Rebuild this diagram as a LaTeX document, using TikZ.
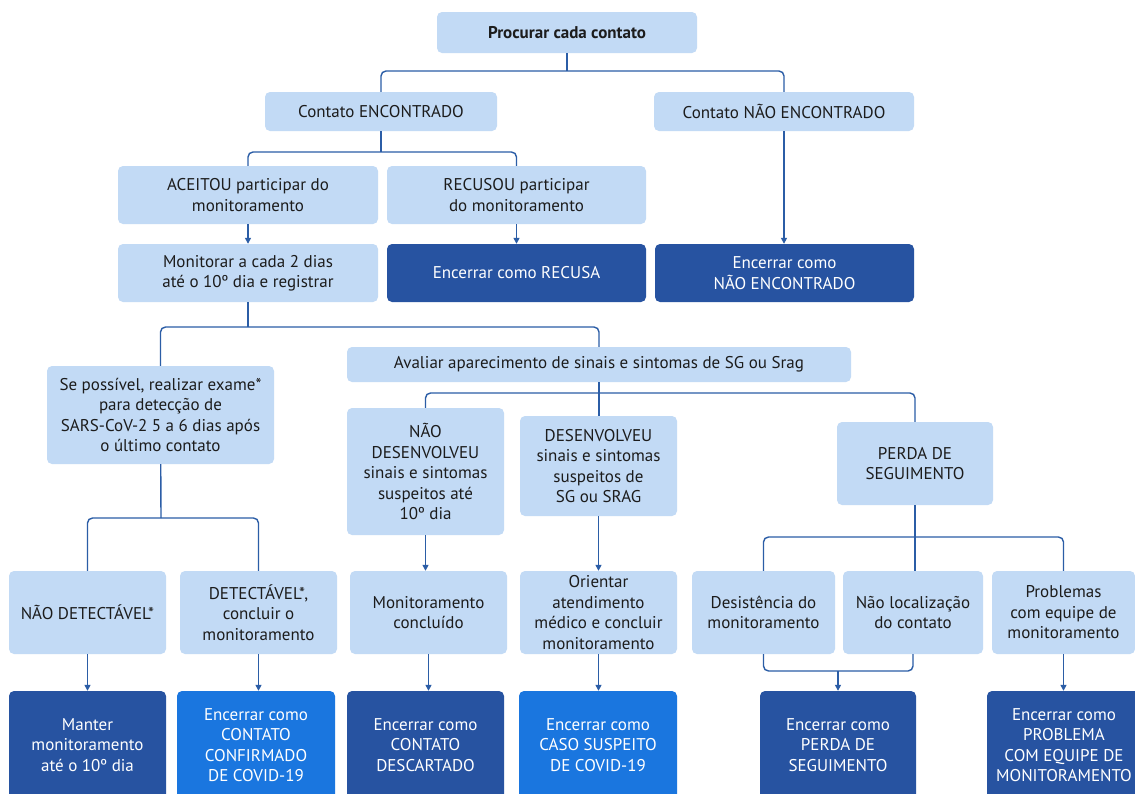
\documentclass[tikz,border=0pt]{standalone}
\usepackage{fontspec}
\setmainfont{PT Sans}
\usetikzlibrary{arrows.meta}
\definecolor{lightfill}{HTML}{C2DAF5}
\definecolor{darkfill}{HTML}{2753A1}
\definecolor{brightfill}{HTML}{1A76DF}
\definecolor{linkblue}{HTML}{2B5DA6}
\definecolor{boxtext}{HTML}{1C1C1C}
\tikzset{
    box/.style={rounded corners=5pt, align=center, inner sep=2pt,
        font=\fontsize{17}{20.5}\selectfont},
    light/.style={box, fill=lightfill, text=boxtext},
    dark/.style={box, fill=darkfill, text=white},
    bright/.style={box, fill=brightfill, text=white},
    link/.style={draw=linkblue, line width=1.4pt},
    arrowlink/.style={link, -{Triangle[length=6pt,width=6pt]}},
}
\begin{document}
\begin{tikzpicture}[x=1pt,y=-1pt]
    \clip (0,0) rectangle (1135,793);
    \fill[white] (0,0) rectangle (1135,793);
    % first levels
    \node[light, minimum width=260, minimum height=41] (proc) at (567,32.5) {\bfseries Procurar cada contato};
    \node[light, minimum width=232, minimum height=39] (enc) at (381,111.5) {Contato ENCONTRADO};
    \node[light, minimum width=260, minimum height=39] (nenc) at (784,111.5) {Contato NÃO ENCONTRADO};
    \node[light, minimum width=260, minimum height=58] (acc) at (248,195) {ACEITOU participar do\\monitoramento};
    \node[light, minimum width=259, minimum height=58] (rec) at (516.5,195) {RECUSOU participar\\do monitoramento};
    \node[light, minimum width=260, minimum height=58] (mon) at (248,273) {Monitorar a cada 2 dias\\até o 10º dia e registrar};
    \node[dark, minimum width=259, minimum height=58] (erec) at (516.5,273) {Encerrar como RECUSA};
    \node[dark, minimum width=259, minimum height=58] (enenc) at (784.5,273) {Encerrar como\\NÃO ENCONTRADO};
    % middle level
    \node[light, minimum width=227, minimum height=98] (exame) at (160.5,415) {Se possível, realizar exame*\\para detecção de\\SARS-CoV-2 5 a 6 dias após\\o último contato};
    \node[light, minimum width=504, minimum height=35] (aval) at (599,364.5) {Avaliar aparecimento de sinais e sintomas de SG ou Srag};
    \node[light, minimum width=157, minimum height=127] (ndes) at (425.5,471.5) {NÃO\\DESENVOLVEU\\sinais e sintomas\\suspeitos até\\10º dia};
    \node[light, minimum width=157, minimum height=100] (des) at (598.5,466) {DESENVOLVEU\\sinais e sintomas\\suspeitos de\\SG ou SRAG};
    \node[light, minimum width=156, minimum height=83] (perda) at (915,463.5) {PERDA DE\\SEGUIMENTO};
    % lower level
    \node[light, minimum width=157, minimum height=83] (ndet) at (87.5,612.5) {NÃO DETECTÁVEL*};
    \node[light, minimum width=157, minimum height=83] (det) at (258.5,612.5) {DETECTÁVEL*,\\concluir o\\monitoramento};
    \node[light, minimum width=157, minimum height=83] (conc) at (428.5,612.5) {Monitoramento\\concluído};
    \node[light, minimum width=157, minimum height=83] (orient) at (598.5,612.5) {Orientar\\atendimento\\médico e concluir\\monitoramento};
    \node[light, minimum width=143, minimum height=83] (desist) at (763.5,612.5) {Desistência do\\monitoramento};
    \node[light, minimum width=140, minimum height=83] (nloc) at (913,612.5) {Não localização\\do contato};
    \node[light, minimum width=143, minimum height=83] (prob) at (1063.5,612.5) {Problemas\\com equipe de\\monitoramento};
    % closing boxes
    \node[dark, minimum width=157, minimum height=108] (manter) at (87.5,745) {Manter\\monitoramento\\até o 10º dia};
    \node[bright, minimum width=158, minimum height=108] (econf) at (256,745) {Encerrar como\\CONTATO\\CONFIRMADO\\DE COVID-19};
    \node[dark, minimum width=157, minimum height=108] (edesc) at (425.5,745) {Encerrar como\\CONTATO\\DESCARTADO};
    \node[bright, minimum width=158, minimum height=108] (esusp) at (598,745) {Encerrar como\\CASO SUSPEITO\\DE COVID-19};
    \node[dark, minimum width=156, minimum height=108] (eperda) at (838,745) {Encerrar como\\PERDA DE\\SEGUIMENTO};
    \node[dark, minimum width=154, minimum height=108] (eprob) at (1064,745) {Encerrar como\\PROBLEMA\\COM EQUIPE DE\\MONITORAMENTO};
    % bus points
    \coordinate (b1) at (567,71);
    \coordinate (b2) at (381,152);
    \coordinate (b3) at (248,327);
    \coordinate (b4) at (599,393);
    \coordinate (b5) at (161,518);
    \coordinate (b6) at (915,537);
    \coordinate (b7) at (838,671);
    % branches
    \draw[link] (proc) -- (b1);
    \draw[link, rounded corners=5pt] (enc.north) |- (b1) -| (nenc.north);
    \draw[link] (enc) -- (b2);
    \draw[link, rounded corners=5pt] (acc.north) |- (b2) -| (rec.north);
    \draw[link] (mon) -- (b3);
    \draw[link, rounded corners=5pt] (exame.north) |- (b3) -| (aval.north);
    \draw[link, rounded corners=5pt] (ndes.north) |- (b4) -| (perda.north);
    \draw[link] (exame) -- (b5);
    \draw[link, rounded corners=5pt] (ndet.north) |- (b5) -| (det.north);
    \draw[link] (aval.south) -- (aval.south |- des.north);
    \draw[link] (perda.south) -- (perda.south |- nloc.north);
    \draw[link, rounded corners=5pt] (desist.north) |- (b6) -| (prob.north);
    \draw[link, rounded corners=5pt] (desist.south) |- (b7) -| (nloc.south);
    \draw[arrowlink] (b7) -- (eperda.north);
    % arrows
    \foreach \a/\b in {acc/mon, rec/erec, nenc/enenc, ndes/conc, des/orient,
        ndet/manter, det/econf, conc/edesc, orient/esusp, prob/eprob}{
        \draw[arrowlink] (\a.south) -- (\a.south |- \b.north);
    }
\end{tikzpicture}
\end{document}
